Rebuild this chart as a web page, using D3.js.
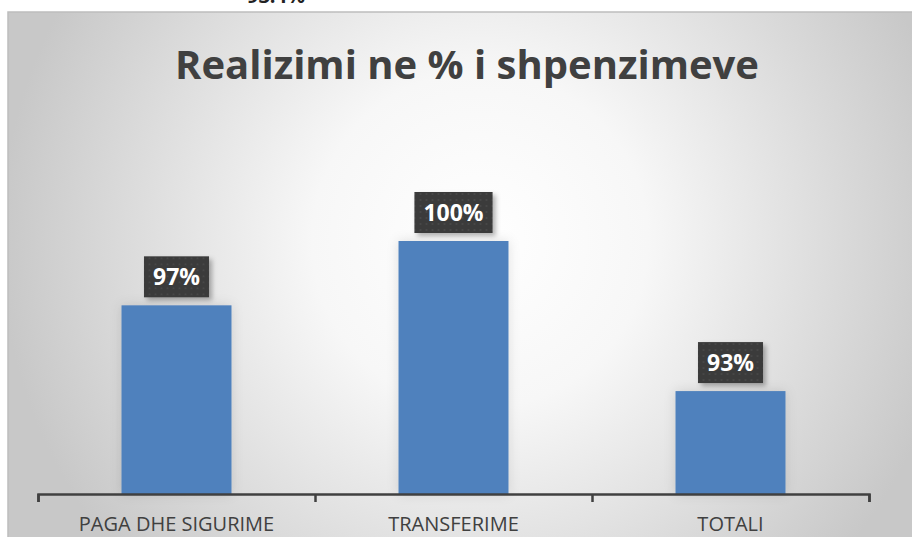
<!DOCTYPE html>
<html lang="sq">
<head>
<meta charset="utf-8">
<title>Realizimi ne % i shpenzimeve</title>
<script src="https://cdnjs.cloudflare.com/ajax/libs/d3/7.8.5/d3.min.js"></script>
<style>
  body { margin: 0; background: #ffffff; }
  svg { display: block; }
</style>
</head>
<body>
<svg id="chart" width="912" height="537"></svg>
<script>
// data
var categories = ["PAGA DHE SIGURIME", "TRANSFERIME", "TOTALI"];
var values = [97, 100, 93];
var valueLabels = ["97%", "100%", "93%"];
var chartTitle = "Realizimi ne % i shpenzimeve";
var cutText = "93.4%"; // partly visible text above the chart

var W = 912, H = 537;
var svg = d3.select("#chart");
var defs = svg.append("defs");

// background radial gradient (white centre, grey edges)
var grad = defs.append("radialGradient")
  .attr("id", "bg").attr("gradientUnits", "userSpaceOnUse")
  .attr("cx", 480).attr("cy", 240).attr("r", 480);
grad.append("stop").attr("offset", "0%").attr("stop-color", "#ffffff");
grad.append("stop").attr("offset", "35%").attr("stop-color", "#f7f7f7");
grad.append("stop").attr("offset", "100%").attr("stop-color", "#c8c8c8");

// soft shadow for labels
var sh = defs.append("filter").attr("id", "shadow")
  .attr("x", "-20%").attr("y", "-20%").attr("width", "150%").attr("height", "150%");
sh.append("feDropShadow").attr("dx", 3).attr("dy", 3).attr("stdDeviation", 2.5)
  .attr("flood-color", "#000").attr("flood-opacity", 0.3);

var barSh = defs.append("filter").attr("id", "barShadow")
  .attr("x", "-30%").attr("y", "-10%").attr("width", "160%").attr("height", "120%");
barSh.append("feDropShadow").attr("dx", 0).attr("dy", 0).attr("stdDeviation", 6)
  .attr("flood-color", "#000").attr("flood-opacity", 0.12);

// dotted texture for label boxes
var pat = defs.append("pattern").attr("id", "dots")
  .attr("width", 6).attr("height", 6).attr("patternUnits", "userSpaceOnUse");
pat.append("rect").attr("width", 6).attr("height", 6).attr("fill", "#3a3a3a");
pat.append("circle").attr("cx", 3).attr("cy", 3).attr("r", 1).attr("fill", "#4a4a4a");

// text fragment above the chart (cut off by the top edge, as in the source)
svg.append("text")
  .attr("x", 276).attr("y", 3)
  .attr("text-anchor", "middle")
  .attr("font-family", "'Open Sans', sans-serif")
  .attr("font-weight", "bold")
  .attr("font-size", 20)
  .attr("fill", "#222")
  .text(cutText);

// chart area
svg.append("rect")
  .attr("x", 8).attr("y", 12)
  .attr("width", W - 8 + 2).attr("height", H - 12 + 2)
  .attr("fill", "url(#bg)")
  .attr("stroke", "#bdbdbd").attr("stroke-width", 1.5);

// title
svg.append("text")
  .attr("x", 467).attr("y", 79)
  .attr("text-anchor", "middle")
  .attr("font-family", "'Open Sans', sans-serif")
  .attr("font-weight", "bold")
  .attr("font-size", 40)
  .attr("fill", "#404040")
  .text(chartTitle);

// scales
var x = d3.scaleBand()
  .domain(categories)
  .range([38, 869])
  .paddingInner(0.603)
  .paddingOuter(0.3015);

var y = d3.scaleLinear()
  .domain([88.2, 100])
  .range([494, 241]);

// bars
svg.append("g").selectAll("rect")
  .data(values)
  .join("rect")
  .attr("x", function(d, i) { return x(categories[i]); })
  .attr("y", function(d) { return y(d); })
  .attr("width", x.bandwidth())
  .attr("height", function(d) { return y.range()[0] - y(d); })
  .attr("fill", "#4f81bd")
  .attr("filter", "url(#barShadow)");

// axis: line with ticks on category boundaries
var edges = d3.scaleLinear().domain([0, categories.length]).range(x.range());
var axis = svg.append("g")
  .attr("transform", "translate(0," + y.range()[0] + ")")
  .call(d3.axisBottom(edges).ticks(categories.length).tickFormat("").tickSize(8).tickSizeOuter(8));
axis.select(".domain").attr("stroke", "#404040").attr("stroke-width", 2.5);
axis.selectAll(".tick line").attr("stroke", "#404040").attr("stroke-width", 2.5);

// category labels
svg.append("g").selectAll("text")
  .data(categories)
  .join("text")
  .attr("x", function(d) { return x(d) + x.bandwidth() / 2; })
  .attr("y", 531)
  .attr("text-anchor", "middle")
  .attr("font-family", "'Open Sans', sans-serif")
  .attr("font-size", 20)
  .attr("fill", "#404040")
  .text(function(d) { return d; });

// data labels
var lab = svg.append("g").selectAll("g")
  .data(values)
  .join("g")
  .attr("transform", function(d, i) {
    return "translate(" + (x(categories[i]) + x.bandwidth() / 2) + "," + (y(d) - 8) + ")";
  });

lab.append("text")
  .attr("x", 0).attr("y", -12)
  .attr("text-anchor", "middle")
  .attr("font-family", "'Open Sans', sans-serif")
  .attr("font-weight", "bold")
  .attr("font-size", 23)
  .attr("fill", "#ffffff")
  .text(function(d, i) { return valueLabels[i]; });

lab.each(function() {
  var g = d3.select(this);
  var tw = g.select("text").node().getComputedTextLength();
  g.insert("rect", "text")
    .attr("x", -tw / 2 - 9).attr("y", -41)
    .attr("width", tw + 18).attr("height", 41)
    .attr("fill", "url(#dots)")
    .attr("filter", "url(#shadow)");
});
</script>
</body>
</html>
